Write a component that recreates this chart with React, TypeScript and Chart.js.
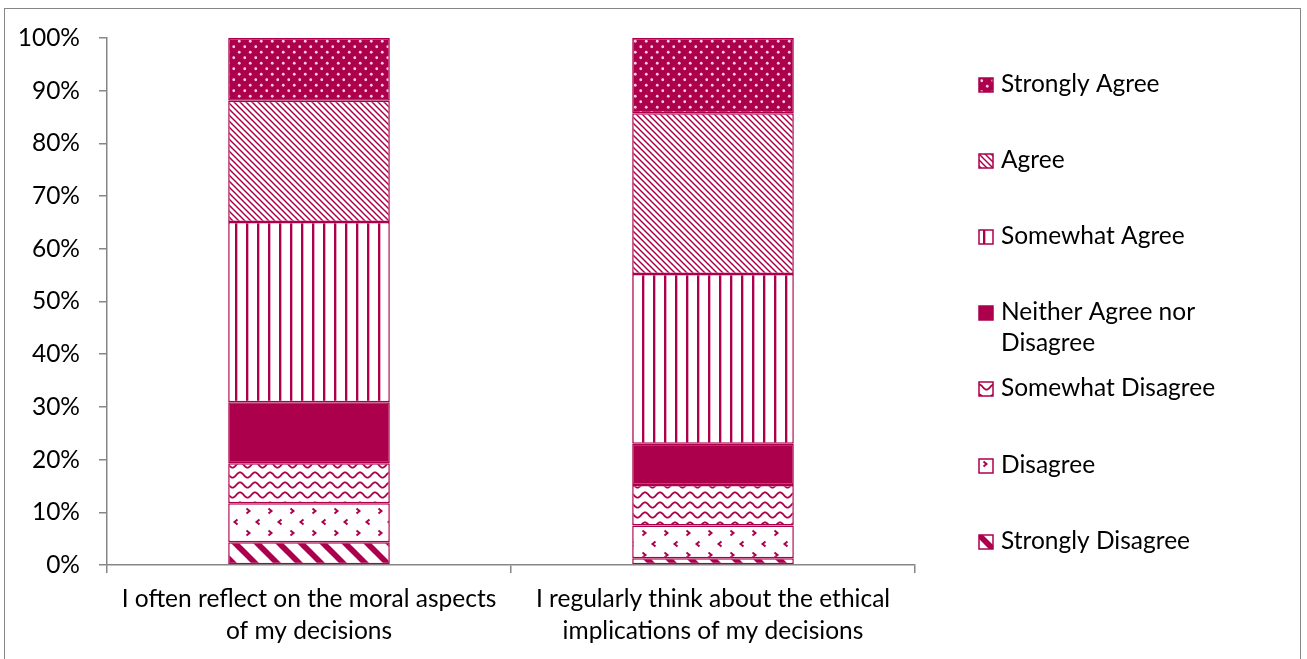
import React, { useEffect, useRef } from 'react';
import { Chart, registerables } from 'chart.js';

Chart.register(...registerables);

const categories = [
  ['I often reflect on the moral aspects', 'of my decisions'],
  ['I regularly think about the ethical', 'implications of my decisions'],
];
const seriesNames = [
  'Strongly Disagree',
  'Disagree',
  'Somewhat Disagree',
  'Neither Agree nor Disagree',
  'Somewhat Agree',
  'Agree',
  'Strongly Agree',
];
const stronglyDisagree = [4.3, 1.3];
const disagree = [7.4, 6.2];
const somewhatDisagree = [7.6, 7.7];
const neither = [11.6, 7.8];
const somewhatAgree = [34.2, 32.2];
const agree = [23.0, 30.5];
const stronglyAgree = [11.9, 14.3];
const yTickValues = [0, 10, 20, 30, 40, 50, 60, 70, 80, 90, 100];
const legendLines = [
  ['Strongly Agree'],
  ['Agree'],
  ['Somewhat Agree'],
  ['Neither Agree nor', 'Disagree'],
  ['Somewhat Disagree'],
  ['Disagree'],
  ['Strongly Disagree'],
];

const C = '#AD004C';
const AXIS = '#868686';
const FONT = 'Lato';
const FS = 24.5;

function tile(w: number, h: number, draw: (g: CanvasRenderingContext2D) => void) {
  const c = document.createElement('canvas');
  c.width = w;
  c.height = h;
  const g = c.getContext('2d')!;
  g.fillStyle = '#fff';
  g.fillRect(0, 0, w, h);
  draw(g);
  return g.createPattern(c, 'repeat')!;
}

function diag(g: CanvasRenderingContext2D, p: number, lw: number) {
  g.strokeStyle = C;
  g.lineWidth = lw;
  for (let k = -1; k <= 1; k++) {
    g.beginPath();
    g.moveTo(-2, -2 + k * p);
    g.lineTo(p + 2, p + 2 + k * p);
    g.stroke();
  }
}

function makePatterns() {
  const sd = tile(22, 22, (g) => diag(g, 22, 5.8));
  const d = tile(22, 22, (g) => {
    g.strokeStyle = C;
    g.lineWidth = 2;
    const chev = (x: number, y: number, dir: number) => {
      g.beginPath();
      g.moveTo(x - 1.5 * dir, y - 2.5);
      g.lineTo(x + 1.5 * dir, y);
      g.lineTo(x - 1.5 * dir, y + 2.5);
      g.stroke();
    };
    chev(6, 5, 1);
    chev(16, 16, -1);
  });
  const swd = tile(15, 10, (g) => {
    g.strokeStyle = C;
    g.lineWidth = 1.8;
    g.beginPath();
    for (let x = -1; x <= 16; x += 0.5) {
      const y = 5 - 2.6 * Math.cos((2 * Math.PI * x) / 15);
      if (x === -1) g.moveTo(x, y);
      else g.lineTo(x, y);
    }
    g.stroke();
  });
  const swa = tile(11, 4, (g) => {
    g.fillStyle = C;
    g.fillRect(4, 0, 2, 4);
    g.fillStyle = 'rgba(173,0,76,0.35)';
    g.fillRect(6, 0, 1, 4);
  });
  const a = tile(6, 6, (g) => diag(g, 6, 1.5));
  const sa = tile(11, 11, (g) => {
    g.fillStyle = C;
    g.fillRect(0, 0, 11, 11);
    g.fillStyle = 'rgba(255,215,232,0.95)';
    g.beginPath();
    g.arc(2.75, 2.75, 1.4, 0, Math.PI * 2);
    g.fill();
    g.beginPath();
    g.arc(8.25, 8.25, 1.4, 0, Math.PI * 2);
    g.fill();
  });
  return [sd, d, swd, C, swa, a, sa];
}

export default function App() {
  const ref = useRef<HTMLCanvasElement | null>(null);
  useEffect(() => {
    const canvas = ref.current!;
    const fills = makePatterns();
    const values = [stronglyDisagree, disagree, somewhatDisagree, neither, somewhatAgree, agree, stronglyAgree];

    const legendPlugin = {
      id: 'customLegend',
      afterDraw(chart: any) {
        const ctx = chart.ctx as CanvasRenderingContext2D;
        ctx.save();
        legendLines.forEach((lines, i) => {
          const di = seriesNames.length - 1 - i;
          const base = 91.5 + i * 76.2;
          ctx.save();
          ctx.translate(979, Math.round(base - 14));
          ctx.fillStyle = fills[di] as any;
          ctx.fillRect(0, 0, 14, 14);
          ctx.strokeStyle = C;
          ctx.lineWidth = 1.5;
          ctx.strokeRect(0, 0, 14, 14);
          ctx.restore();
          ctx.fillStyle = '#000';
          ctx.font = `${FS}px ${FONT}`;
          ctx.textBaseline = 'alphabetic';
          ctx.textAlign = 'left';
          lines.forEach((t, j) => ctx.fillText(t, 1001, base + j * 31));
        });
        ctx.restore();
      },
    };

    const chart = new Chart(canvas, {
      type: 'bar',
      data: {
        labels: categories,
        datasets: seriesNames.map((name, i) => ({
          label: name,
          data: values[i],
          backgroundColor: fills[i] as any,
          borderColor: C,
          borderWidth: 1.5,
          borderSkipped: false,
          barPercentage: 0.4,
          categoryPercentage: 1.0,
        })),
      },
      options: {
        responsive: false,
        animation: false,
        layout: { padding: { left: 0, right: 392, top: 38, bottom: 0 } },
        plugins: { legend: { display: false }, tooltip: { enabled: false } },
        scales: {
          x: {
            stacked: true,
            grid: { display: true, drawOnChartArea: false, drawTicks: true, tickLength: 8, color: AXIS, lineWidth: 1.5, offset: true },
            border: { display: true, color: AXIS, width: 1.5 },
            ticks: { color: '#000', font: { family: FONT, size: FS, lineHeight: 32 / FS }, padding: 10, maxRotation: 0 },
            afterFit: (s: any) => { s.height = 94; },
          },
          y: {
            stacked: true,
            min: 0,
            max: 100,
            afterBuildTicks: (s: any) => { s.ticks = yTickValues.map((v) => ({ value: v })); },
            grid: { display: true, drawOnChartArea: false, drawTicks: true, tickLength: 8, color: AXIS, lineWidth: 1.5 },
            border: { display: true, color: AXIS, width: 1.5 },
            ticks: { color: '#000', font: { family: FONT, size: FS }, padding: 19, callback: (v: any) => `${v}%` },
            afterFit: (s: any) => { s.width = 107; },
          },
        },
      },
      plugins: [legendPlugin],
    });
    return () => chart.destroy();
  }, []);

  return (
    <div style={{ position: 'fixed', left: 0, top: 0, width: 1307, height: 659, overflow: 'hidden', background: '#fff' }}>
      <div style={{ position: 'absolute', left: 4, top: 8, width: 1297, height: 700, border: `1.5px solid ${AXIS}`, boxSizing: 'border-box' }} />
      <canvas ref={ref} width={1307} height={659} style={{ position: 'absolute', left: 0, top: 0, width: 1307, height: 659 }} />
    </div>
  );
}
